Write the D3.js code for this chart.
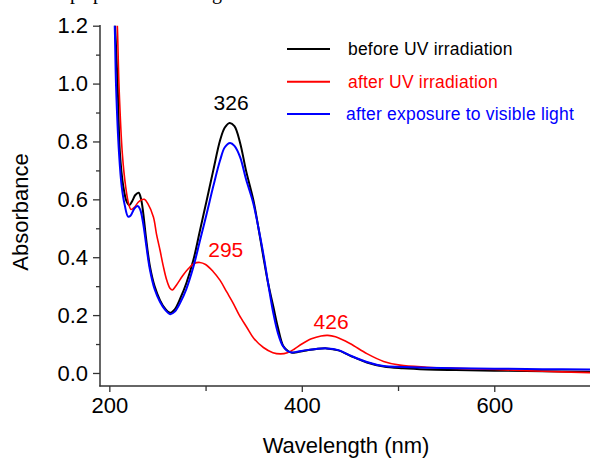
<!DOCTYPE html>
<html>
<head>
<meta charset="utf-8">
<script src="https://cdn.jsdelivr.net/npm/d3@7"></script>
<style>
  body { margin: 0; background: #fff; }
  svg { display: block; }
  text { font-family: "Liberation Sans", Arial, sans-serif; }
</style>
</head>
<body>
<svg id="chart"></svg>
<script>
let w = 590;
let h = 462;

// spectra, [wavelength (nm), absorbance]
let beforeUV = [[205.5,1.24],[206,1.2],[208.7,0.99],[211,0.76],[214.5,0.645],[218,0.592],[220.7,0.58],[224,0.595],[227,0.615],[230.5,0.623],[233,0.6],[235.3,0.551],[238,0.47],[242.3,0.366],[247,0.3],[252.7,0.251],[258,0.222],[263.2,0.208],[268,0.22],[274,0.26],[280,0.31],[287.3,0.39],[294,0.49],[301.2,0.597],[308,0.7],[315.1,0.804],[320,0.848],[325,0.864],[330,0.853],[335.9,0.795],[342,0.7],[349.7,0.597],[355,0.5],[360.1,0.4],[365,0.31],[370.5,0.228],[375,0.16],[380.9,0.092],[386,0.075],[390,0.07],[395,0.072],[405,0.078],[415,0.083],[426,0.085],[438,0.078],[450,0.06],[467.6,0.036],[485,0.022],[505,0.016],[530,0.012],[560,0.01],[600,0.008],[650,0.006],[700,0.004]];
let afterUV = [[207.5,1.24],[208.3,1.2],[210.1,0.988],[213.5,0.758],[217,0.643],[220,0.585],[222.6,0.565],[226,0.572],[230,0.59],[233,0.598],[236.4,0.6],[240,0.585],[245.8,0.539],[249,0.48],[252.7,0.424],[256,0.37],[259.7,0.32],[263,0.293],[265.5,0.287],[270,0.305],[276,0.335],[282,0.36],[288,0.378],[294,0.382],[300,0.375],[308,0.35],[315.1,0.32],[322,0.28],[328.9,0.24],[335,0.2],[342.8,0.158],[350,0.12],[360.1,0.088],[370,0.07],[378,0.066],[385,0.07],[392,0.082],[400,0.1],[410,0.118],[420,0.128],[427,0.13],[435,0.125],[450,0.102],[467.6,0.067],[485,0.04],[502,0.027],[530,0.02],[560,0.016],[600,0.012],[650,0.006],[700,0.001]];
let afterVis = [[205,1.24],[205.6,1.2],[207,0.99],[210.1,0.758],[212.9,0.643],[216,0.58],[219.5,0.54],[222,0.543],[226,0.568],[229.5,0.577],[232,0.565],[235,0.52],[238,0.45],[242,0.36],[247,0.29],[252.7,0.245],[258,0.218],[263.2,0.203],[268,0.212],[274,0.245],[280,0.29],[287.3,0.366],[294,0.455],[301.2,0.551],[308,0.645],[315.1,0.735],[320,0.78],[325.5,0.795],[330,0.785],[335.9,0.746],[342,0.67],[349.7,0.585],[355,0.5],[360.1,0.41],[365,0.31],[370.5,0.205],[375,0.14],[380,0.095],[385,0.076],[389.6,0.071],[395,0.073],[405,0.079],[415,0.083],[426,0.085],[438,0.079],[450,0.061],[467.6,0.038],[485,0.024],[505,0.021],[530,0.018],[560,0.016],[600,0.015],[650,0.013],[700,0.012]];

let seriesNames = ["before UV irradiation", "after UV irradiation", "after exposure to visible light"];
let seriesColors = ["#000000", "#ff0000", "#0000ff"];

let xTicks = [200, 400, 600];
let xMinor = [300, 500];
let yTicks = [0, 0.2, 0.4, 0.6, 0.8, 1.0, 1.2];
let yMinor = [0.1, 0.3, 0.5, 0.7, 0.9, 1.1];

// peak labels
let peakLabels = [
  {text: "326", x: 326.5, y: 0.908, color: "#000000"},
  {text: "295", x: 321, y: 0.40, color: "#ff0000"},
  {text: "426", x: 430.4, y: 0.151, color: "#ff0000"}
];

let svg = d3.select("#chart").attr("width", w).attr("height", h);

let xScale = d3.scaleLinear().domain([190.3, 700]).range([100, 590.5]);
let yScale = d3.scaleLinear().domain([-0.045, 1.2]).range([386, 25.7]);

// clipped fragment of text above the figure
svg.append("text")
  .attr("y", -1.5)
  .style("font-family", "'Liberation Serif', serif")
  .style("font-size", "20px")
  .selectAll("tspan")
  .data([[70, "p"], [93, "p"], [212, "g"]])
  .join("tspan")
  .attr("x", d => d[0])
  .text(d => d[1]);

svg.append("defs").append("clipPath").attr("id", "plotclip")
  .append("rect").attr("x", 100).attr("y", 25.7).attr("width", 490).attr("height", 360.3);

let line = d3.line()
  .x(d => xScale(d[0]))
  .y(d => yScale(d[1]))
  .curve(d3.curveCatmullRom.alpha(0.5));

let plot = svg.append("g").attr("clip-path", "url(#plotclip)");
let drawOrder = [[beforeUV, 0, 2], [afterUV, 1, 1.6], [afterVis, 2, 2]];
drawOrder.forEach(s => {
  plot.append("path")
    .datum(s[0])
    .attr("fill", "none")
    .attr("stroke", seriesColors[s[1]])
    .attr("stroke-width", s[2])
    .attr("d", line);
});

// axes
let axisColor = "#333";
let xAxis = d3.axisBottom(xScale).tickValues(xTicks).tickSize(6).tickPadding(5).tickFormat(d3.format("d"));
let xAxisMinor = d3.axisBottom(xScale).tickValues(xMinor).tickSize(5).tickFormat("");
let yAxis = d3.axisLeft(yScale).tickValues(yTicks).tickSize(7).tickPadding(5).tickFormat(d3.format(".1f"));
let yAxisMinor = d3.axisLeft(yScale).tickValues(yMinor).tickSize(4).tickFormat("");

function styleAxis(g) {
  g.select(".domain").remove();
  g.selectAll("line").attr("stroke", axisColor).attr("stroke-width", 1.3);
  g.selectAll("text").attr("fill", "#000").style("font-size", "22px")
    .style("font-family", "'Liberation Sans', Arial, sans-serif");
}

svg.append("g").attr("transform", "translate(0,386)").call(xAxis).call(styleAxis);
svg.append("g").attr("transform", "translate(0,386)").call(xAxisMinor).call(styleAxis);
svg.append("g").attr("transform", "translate(100,0)").call(yAxis).call(styleAxis);
svg.append("g").attr("transform", "translate(100,0)").call(yAxisMinor).call(styleAxis);

// axis lines (no box on top/right)
svg.append("line").attr("x1", 100).attr("x2", 100).attr("y1", 25).attr("y2", 386.6)
  .attr("stroke", axisColor).attr("stroke-width", 1.5);
svg.append("line").attr("x1", 99.3).attr("x2", 590).attr("y1", 386).attr("y2", 386)
  .attr("stroke", axisColor).attr("stroke-width", 1.5);

// axis titles
svg.append("text")
  .attr("x", 346).attr("y", 453)
  .attr("text-anchor", "middle")
  .style("font-size", "22px")
  .text("Wavelength (nm)");

svg.append("text")
  .attr("transform", "translate(28,212) rotate(-90)")
  .attr("text-anchor", "middle")
  .style("font-size", "22px")
  .text("Absorbance");

// peak annotations
svg.selectAll(".peak")
  .data(peakLabels)
  .join("text")
  .attr("class", "peak")
  .attr("x", d => xScale(d.x))
  .attr("y", d => yScale(d.y))
  .attr("text-anchor", "middle")
  .attr("fill", d => d.color)
  .style("font-size", "21px")
  .text(d => d.text);

// legend
let legendY = [49, 81.7, 114];
let legend = svg.append("g");
seriesNames.forEach((name, i) => {
  legend.append("line")
    .attr("x1", 287).attr("x2", 330)
    .attr("y1", legendY[i]).attr("y2", legendY[i])
    .attr("stroke", seriesColors[i]).attr("stroke-width", 2);
  legend.append("text")
    .attr("x", i == 2 ? 346 : 348)
    .attr("y", legendY[i])
    .attr("dy", "0.35em")
    .attr("fill", seriesColors[i])
    .style("font-size", "17.5px")
    .style("letter-spacing", "0.2px")
    .text(name);
});
</script>
</body>
</html>
